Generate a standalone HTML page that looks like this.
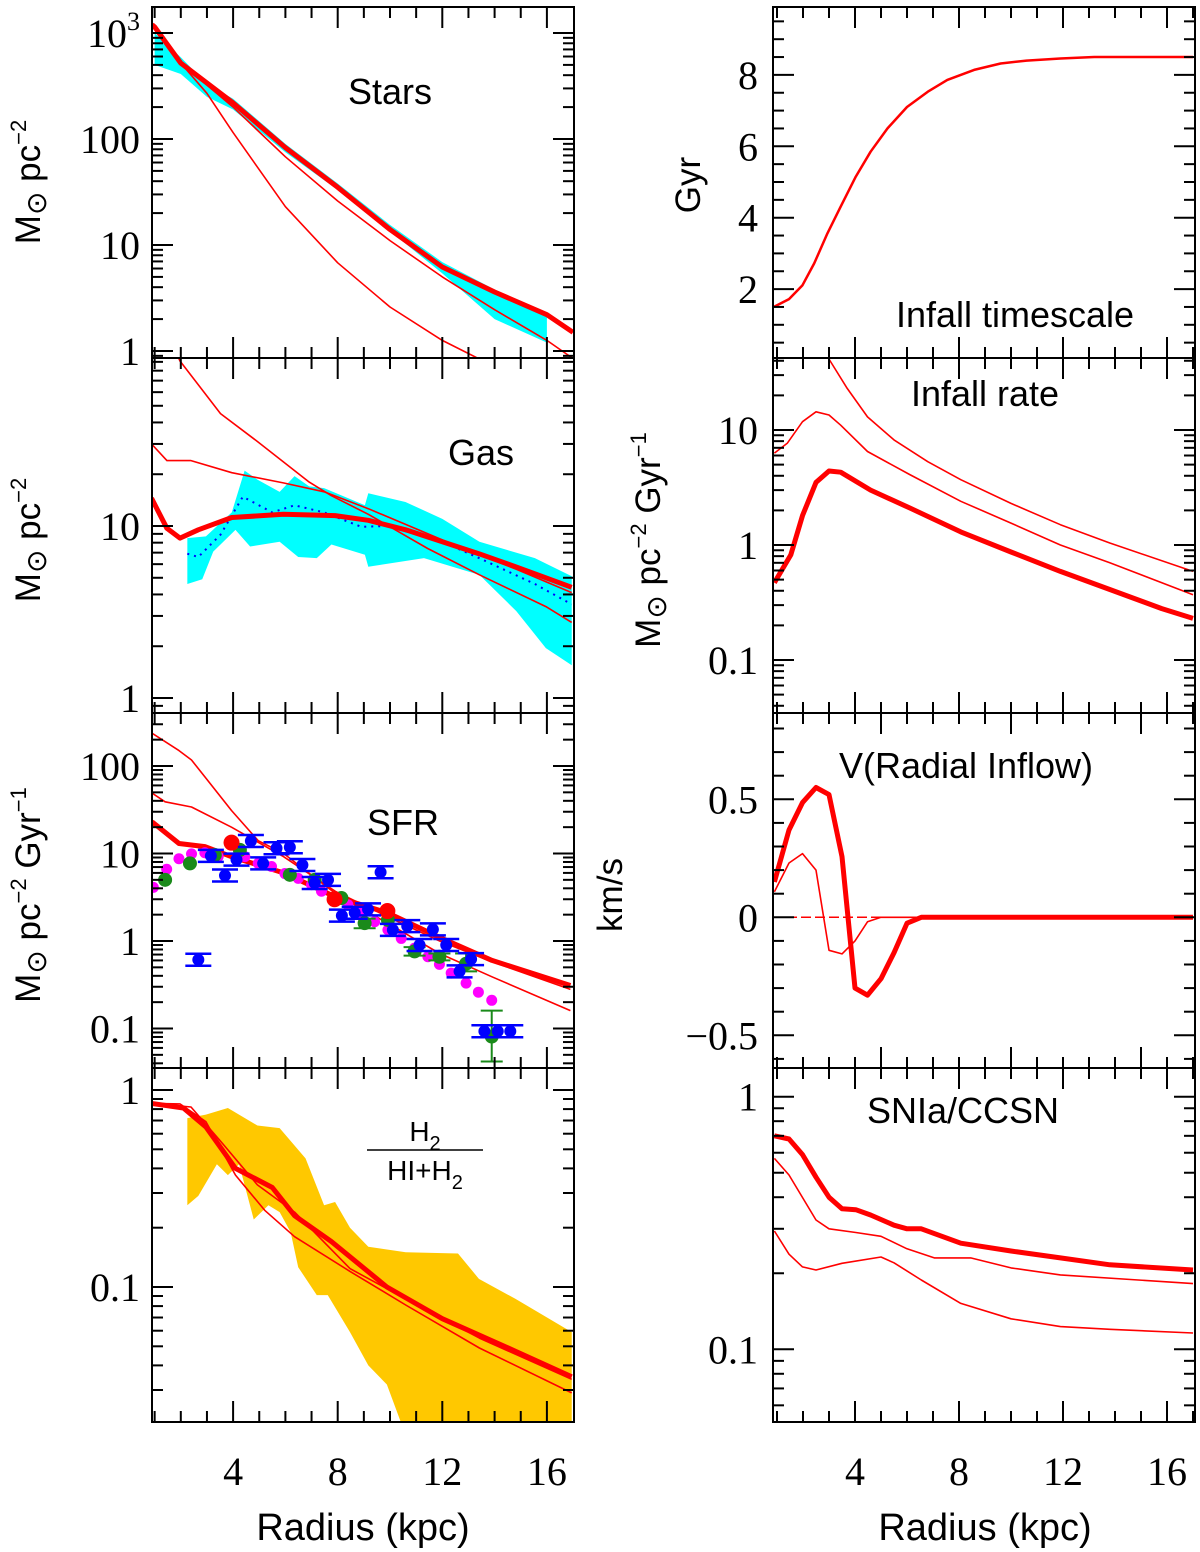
<!DOCTYPE html>
<html><head><meta charset="utf-8"><style>
html,body{margin:0;padding:0;background:#fff;width:1200px;height:1552px;overflow:hidden}
svg text{font-family:"Liberation Sans",sans-serif;fill:#000}
.num{font-family:"Liberation Serif",serif;font-size:40px}
.ttl{font-size:36px;font-weight:300}
</style></head><body>
<svg id="fig" width="1200" height="1552" viewBox="0 0 1200 1552" xmlns="http://www.w3.org/2000/svg"></svg>
<script>
// ---------- data (Radius in kpc, values in panel units) ----------
// Stars
const starsThickR=[0.9,1,2,4,6,8,10,12,14,16,17];
const starsThick=[1200,1140,520,219,83,35,14,6.2,3.6,2.2,1.5];
const starsMidR=[0.9,2,4,6,8,10,12,14,16,17];
const starsMid=[1200,520,200,68,26,11,5,2.45,1.26,0.85];
const starsSteepR=[0.9,2,3,4,6,8,10,12,13.5,14];
const starsSteep=[1200,520,270,115,23,6.8,2.6,1.26,0.82,0.7];
const starsBandR=[1,2,3,4,6,8,10,12,14,16];
const starsBandHi=[1000,590,330,240,90,38,15.5,6.9,3.8,2.3];
const starsBandLo=[500,410,250,190,75,33,13.5,5.4,2.0,1.2];
// Gas
const gasThickR=[0.88,1.47,1.97,2.67,3.95,5.92,7.9,9.17,10.6,12.0,13.4,14.8,15.96,16.95];
const gasThick=[14.5,9.7,8.5,9.5,11.2,11.7,11.5,10.8,9.5,8.1,6.9,5.8,5.0,4.4];
const gasTopR=[1.5,1.97,3.52,4.93,6.91,7.76,9.17,11.44,13.42,15.96,16.95];
const gasTop=[130,91,45,31,18,15,11.7,7.4,5.2,3.4,2.75];
const gasMidR=[0.88,1.47,2.39,3.95,5.92,7.48,9.17,12.0,14.83,16.95];
const gasMid=[30,24,24,20.4,17.8,15.8,12.6,8.3,5.6,4.1];
const gasBandHiR=[2.25,2.96,3.95,4.44,4.93,5.78,6.35,6.91,7.48,9.04,9.17,10.59,12.0,13.42,15.54,16.95];
const gasBandHi=[8.5,8.7,12,21,18.6,15.8,19.5,17,16.6,13.2,15.5,13.8,11,8.1,6.5,5.1];
const gasBandLoR=[2.25,2.82,3.24,4.09,4.65,5.78,6.49,7.2,7.76,9.04,9.17,11.3,13.42,14.83,15.96,16.95];
const gasBandLo=[4.6,4.9,7.1,9.5,7.6,8.1,6.6,6.5,7.8,6.8,5.8,6.5,5.2,3.2,1.95,1.55];
const gasObsR=[2.25,2.67,3.52,4.37,5.5,6.35,7.48,8.9,9.88,12.0,13.42,15.54,16.95];
const gasObs=[6.9,6.6,8.9,14.8,12,13.2,12,9.9,10,8.1,6.5,4.6,3.5];
// SFR
const sfrThickR=[0.9,1.93,2.92,3.94,5.93,7.91,9.9,11.9,13.9,16.9];
const sfrThick=[23,13,12,9.2,6,3.2,2.1,1.1,0.6,0.31];
const sfrTopR=[0.9,1.93,2.41,2.92,3.94,4.96,5.93,7.91,9.9,11.9,13.9,16.9];
const sfrTop=[237,150,117,75,31,14,10,3.5,1.6,0.72,0.39,0.16];
const sfrMidR=[0.9,1.4,2.41,3.94,5.93,7.91,9.9,11.9,13.9,16.9];
const sfrMid=[49,39,34,20,9.2,3.7,1.9,1.0,0.58,0.28];
const magR=[0.95,1.46,1.93,2.41,2.92,3.43,4.45,4.96,5.47,5.98,6.49,7.0,7.38,7.88,8.39,8.9,9.41,9.92,10.43,10.94,11.45,11.89,12.34,12.91,13.38,13.89];
const magV=[4.1,6.6,8.7,9.9,10.2,9.2,9.2,7.7,7.1,5.9,5.2,4.4,3.7,3.1,2.6,2.1,1.66,1.34,1.07,0.83,0.66,0.54,0.43,0.33,0.26,0.21];
const grnR=[1.4,2.35,3.3,4.26,6.17,7.12,8.14,9.03,9.92,10.94,11.89,12.91,13.89];
const grnV=[5.0,7.7,9.6,11,5.7,5.0,3.1,1.6,1.74,0.76,0.66,0.55,0.081];
const grnLo=[5.0,7.7,9.6,11,5.7,5.0,3.1,1.4,1.74,0.68,0.6,0.45,0.042];
const grnHi=[5.0,7.7,9.6,11,5.7,5.0,3.1,1.8,1.74,0.85,0.72,0.72,0.16];
const redR=[3.94,7.88,9.9];
const redV=[13.3,3.0,2.2];
const bluR=[2.67,3.69,3.15,4.13,4.68,5.15,5.66,6.17,6.65,7.12,7.63,8.16,8.65,9.16,9.64,10.11,10.66,11.13,11.64,12.15,12.66,13.1,13.61,14.12,14.6];
const bluV=[0.61,5.6,9.4,8.5,13.9,7.7,11.5,11.8,7.4,4.6,5.0,1.95,2.1,2.3,6.1,1.34,1.48,0.9,1.36,0.9,0.45,0.62,0.093,0.093,0.093];
// H2 fraction
const h2BandHiR=[2.25,2.96,3.8,4.93,5.78,6.77,7.48,7.9,8.47,9.17,10.6,12.6,13.4,14.8,16.95];
const h2BandHi=[0.72,0.75,0.81,0.66,0.64,0.45,0.26,0.27,0.20,0.16,0.15,0.148,0.11,0.087,0.059];
const h2BandLoR=[2.25,2.67,3.38,3.8,4.23,4.79,5.35,5.78,6.2,6.49,7.2,7.62,8.47,9.17,9.88,10.45,12,16.95];
const h2BandLo=[0.26,0.29,0.42,0.37,0.42,0.22,0.26,0.24,0.19,0.126,0.091,0.091,0.059,0.04,0.032,0.02,0.01,0.01];
const h2ThickR=[0.88,2.1,2.96,4.09,5.5,6.35,7.76,9.88,12.0,14.83,16.95];
const h2Thick=[0.855,0.81,0.65,0.40,0.32,0.23,0.17,0.10,0.069,0.047,0.035];
const h2AR=[0.88,2.39,3.52,4.93,6.35,8.47,10.6,13.42,16.95];
const h2A=[0.855,0.82,0.55,0.33,0.24,0.124,0.087,0.055,0.034];
const h2BR=[0.88,1.97,2.96,4.09,5.21,6.35,8.47,10.6,13.42,16.95];
const h2B=[0.855,0.85,0.69,0.37,0.245,0.18,0.12,0.081,0.049,0.029];
// Infall timescale
const tauR=[0.9,1.46,1.98,2.43,2.94,3.45,4.03,4.6,5.25,6.0,6.8,7.55,8.58,9.6,10.6,11.9,13.2,17];
const tauG=[1.51,1.72,2.11,2.72,3.56,4.31,5.15,5.85,6.5,7.1,7.53,7.86,8.14,8.32,8.4,8.46,8.5,8.5];
// Infall rate
const infThickR=[0.9,1.53,1.98,2.5,3.0,3.45,4.6,6.1,8.07,10,11.9,13.8,15.8,17];
const infThick=[0.47,0.82,1.8,3.5,4.4,4.3,3.0,2.1,1.3,0.87,0.59,0.41,0.28,0.23];
const infMidR=[0.9,1.4,1.98,2.5,3.0,3.45,4.48,6.1,8.07,10,11.9,13.8,17];
const infMid=[6.3,7.7,11.8,14.4,13.5,11,6.5,4.1,2.4,1.55,1.0,0.7,0.37];
const infTopR=[2.9,3.07,3.7,4.48,5.5,6.8,8.07,10,11.9,13.8,17];
const infTop=[45,39,23,13,8.2,5.3,3.7,2.3,1.5,1.04,0.59];
// Radial inflow velocity
const velThickR=[0.9,1.46,1.98,2.5,3.0,3.5,4.0,4.48,5.0,5.5,6.0,6.55,17];
const velThick=[0.15,0.37,0.486,0.55,0.52,0.257,-0.30,-0.33,-0.26,-0.15,-0.025,0,0];
const velThinR=[0.9,1.46,1.98,2.5,3.0,3.5,4.0,4.48,5.0,17];
const velThin=[0.108,0.23,0.27,0.2,-0.14,-0.155,-0.10,-0.019,0,0];
// SNIa / CCSN
const snThickR=[0.9,1.46,1.98,2.5,3.0,3.5,4.03,4.6,5.5,6,6.55,8.07,10,11.9,13.8,17];
const snThick=[0.70,0.68,0.59,0.48,0.40,0.36,0.357,0.34,0.31,0.30,0.30,0.263,0.245,0.23,0.216,0.206];
const snMidR=[0.9,1.46,2.5,3.0,4.03,5.0,6,7.05,8.45,10,11.9,17];
const snMid=[0.57,0.49,0.325,0.30,0.29,0.28,0.25,0.23,0.23,0.21,0.197,0.182];
const snLowR=[0.9,1.46,1.98,2.5,3.5,5,5.5,6.55,8.07,10,11.9,13.8,17];
const snLow=[0.294,0.238,0.212,0.206,0.219,0.232,0.22,0.188,0.152,0.132,0.123,0.12,0.116];
// tick labels
const xTickLabels=[4,8,12,16];

// ---------- drawing ----------
const NS='http://www.w3.org/2000/svg';
const svg=document.getElementById('fig');
function mk(tag,attrs,parent){const e=document.createElementNS(NS,tag);for(const k in attrs)e.setAttribute(k,attrs[k]);(parent||svg).appendChild(e);return e;}
const L10=Math.log10;
const xL=r=>128.5+26.15*r, xR=r=>751+26*r;
const rows=[[7,358],[358,713],[713,1068],[1068,1422]];
let clipId=0;
function panel(name,side,row,yf,isLog,yMin,yMax,majorY,minorStep,labels,xMajor){
  const X=side==='L'?xL:xR, l=side==='L'?152:773, r=side==='L'?574:1195;
  const [t,b]=rows[row];
  const g=mk('g',{});
  
  
  const cid='c'+(clipId++);
  const cp=mk('clipPath',{id:cid},g);mk('rect',{x:l,y:t,width:r-l,height:b-t},cp);
  const plot=mk('g',{'clip-path':'url(#'+cid+')'},g);
  const ax=mk('g',{stroke:'#000','stroke-width':2},g);
  for(let k=1;k<=17;k++){const px=X(k);if(px<l+1||px>r-1)continue;const maj=(k%xMajor===0);const len=maj?21:11;
    mk('line',{x1:px,y1:b,x2:px,y2:b-len},ax);mk('line',{x1:px,y1:t,x2:px,y2:t+len},ax);}
  if(isLog){for(let d=Math.floor(yMin);d<=Math.ceil(yMax);d++){for(let m=1;m<=9;m++){const v=m*Math.pow(10,d);const py=yf(v);if(py<t+1||py>b-1)continue;const len=m===1?21:11;
      mk('line',{x1:l,y1:py,x2:l+len,y2:py},ax);mk('line',{x1:r,y1:py,x2:r-len,y2:py},ax);}}}
  else{for(let v=yMin;v<=yMax+1e-9;v+=minorStep){const vv=Math.round(v*1000)/1000;const py=yf(vv);if(py<t+1||py>b-1)continue;const maj=Math.abs(vv/majorY-Math.round(vv/majorY))<1e-6;const len=maj?21:11;
      mk('line',{x1:l,y1:py,x2:l+len,y2:py},ax);mk('line',{x1:r,y1:py,x2:r-len,y2:py},ax);}}
  mk('rect',{x:l,y:t,width:r-l,height:b-t,fill:'none',stroke:'#000','stroke-width':2},g);
  labels.forEach(([v,txt])=>{const tx=mk('text',{x:side==='L'?140:758,y:yf(v)+14,'text-anchor':'end',class:'num'},g);tx.innerHTML=txt;
    });
  return {plot,X,yf};
}
function line(P,R,V,w,nm,extra){const pts=R.map((r,i)=>P.X(r).toFixed(1)+','+P.yf(V[i]).toFixed(1)).join(' ');
  const e=mk('polyline',Object.assign({points:pts,fill:'none',stroke:'#ff0000','stroke-width':w,'stroke-linejoin':'round'},extra||{}),P.plot);
  return e;}
function band(P,Rh,Vh,Rl,Vl,col,nm){const a=Rh.map((r,i)=>P.X(r)+','+P.yf(Vh[i]));const c=Rl.map((r,i)=>P.X(r)+','+P.yf(Vl[i])).reverse();
  const e=mk('polygon',{points:a.concat(c).join(' '),fill:col,stroke:'none'},P.plot);}
function txt(x,y,s,nm,extra){const e=mk('text',Object.assign({x:x,y:y},extra||{}));e.innerHTML=s;return e;}

// Stars
const yS=v=>351-106*L10(v);
const P1=panel('stars','L',0,yS,true,-1,3.4,0,0,[[1000,'10<tspan font-size="26" dy="-17">3</tspan>'],[100,'100'],[10,'10'],[1,'1']],4);
band(P1,starsBandR,starsBandHi,starsBandR,starsBandLo,'#00ffff','stars-observed-band');
line(P1,starsSteepR,starsSteep,1.6,'stars-model-steep');
line(P1,starsMidR,starsMid,1.6,'stars-model-mid');
line(P1,starsThickR,starsThick,5,'stars-model-main');
txt(390,104,'Stars','stars-title',{'text-anchor':'middle',class:'ttl'});
// Gas
const yG=v=>698-172*L10(v);
const P2=panel('gas','L',1,yG,true,-1,2.1,0,0,[[10,'10'],[1,'1']],4);
band(P2,gasBandHiR,gasBandHi,gasBandLoR,gasBandLo,'#00ffff','gas-observed-band');
line(P2,gasObsR,gasObs,2,'gas-observed-mean',{stroke:'#0000ff','stroke-dasharray':'2,5'});
line(P2,gasTopR,gasTop,1.6,'gas-model-steep');
line(P2,gasMidR,gasMid,1.6,'gas-model-mid');
line(P2,gasThickR,gasThick,5,'gas-model-main');
txt(481,465,'Gas','gas-title',{'text-anchor':'middle',class:'ttl'});
// SFR
const yF=v=>941-87.5*L10(v);
const P3=panel('sfr','L',2,yF,true,-2,2.7,0,0,[[100,'100'],[10,'10'],[1,'1'],[0.1,'0.1']],4);
line(P3,sfrTopR,sfrTop,1.6,'sfr-model-steep');
line(P3,sfrMidR,sfrMid,1.6,'sfr-model-mid');
line(P3,sfrThickR,sfrThick,5,'sfr-model-main');
magR.forEach((r,i)=>{const c=mk('circle',{cx:P3.X(r),cy:P3.yf(magV[i]),r:5.5,fill:'#ff00ff'},P3.plot);});
grnR.forEach((r,i)=>{const x=P3.X(r);if(grnHi[i]!==grnLo[i]){const e=mk('g',{stroke:'#1a8a1a','stroke-width':2},P3.plot);mk('line',{x1:x,x2:x,y1:P3.yf(grnLo[i]),y2:P3.yf(grnHi[i])},e);mk('line',{x1:x-11,x2:x+11,y1:P3.yf(grnLo[i]),y2:P3.yf(grnLo[i])},e);mk('line',{x1:x-11,x2:x+11,y1:P3.yf(grnHi[i]),y2:P3.yf(grnHi[i])},e);}
  const c=mk('circle',{cx:x,cy:P3.yf(grnV[i]),r:7,fill:'#1a8a1a'},P3.plot);});
redR.forEach((r,i)=>{const c=mk('circle',{cx:P3.X(r),cy:P3.yf(redV[i]),r:8,fill:'#ff0000'},P3.plot);});
bluR.forEach((r,i)=>{const x=P3.X(r),y=P3.yf(bluV[i]);const e=mk('g',{stroke:'#0000ff','stroke-width':2.5},P3.plot);
  mk('line',{x1:x-13,x2:x+13,y1:y-6,y2:y-6},e);mk('line',{x1:x-13,x2:x+13,y1:y+6,y2:y+6},e);
  const c=mk('circle',{cx:x,cy:y,r:6,fill:'#0000ff'},P3.plot);});
txt(403,835,'SFR','sfr-title',{'text-anchor':'middle',class:'ttl'});
// H2 fraction
const yH=v=>1090-197*L10(v);
const P4=panel('h2-fraction','L',3,yH,true,-2,0.2,0,0,[[1,'1'],[0.1,'0.1']],4);
band(P4,h2BandHiR,h2BandHi,h2BandLoR,h2BandLo,'#ffc800','h2-observed-band');
line(P4,h2BR,h2B,1.6,'h2-model-low');
line(P4,h2AR,h2A,1.6,'h2-model-mid');
line(P4,h2ThickR,h2Thick,5,'h2-model-main');
txt(425,1141,'H<tspan font-size="20" dy="9">2</tspan>','h2-label-numerator',{'text-anchor':'middle',style:'font-size:28px;font-weight:300'});
mk('line',{x1:367,x2:483,y1:1150,y2:1150,stroke:'#000','stroke-width':1.5});
txt(425,1180,'HI+H<tspan font-size="20" dy="9">2</tspan>','h2-label-denominator',{'text-anchor':'middle',style:'font-size:28px;font-weight:300'});
// Infall timescale
const yT=v=>360.5-35.7*v;
const Q1=panel('infall-timescale','R',0,yT,false,0,10,2,0.5,[[2,'2'],[4,'4'],[6,'6'],[8,'8']],4);
line(Q1,tauR,tauG,2.5,'infall-timescale-curve');
txt(1015,327,'Infall timescale','infall-timescale-title',{'text-anchor':'middle',class:'ttl'});
// Infall rate
const yI=v=>545-115*L10(v);
const Q2=panel('infall-rate','R',1,yI,true,-2,1.8,0,0,[[10,'10'],[1,'1'],[0.1,'0.1']],4);
line(Q2,infTopR,infTop,1.6,'infall-rate-steep');
line(Q2,infMidR,infMid,1.6,'infall-rate-mid');
line(Q2,infThickR,infThick,5,'infall-rate-main');
txt(985,406,'Infall rate','infall-rate-title',{'text-anchor':'middle',class:'ttl'});
// Radial inflow
const yV=v=>917.3-236*v;
const Q3=panel('radial-inflow','R',2,yV,false,-0.7,0.9,0.5,0.1,[[0.5,'0.5'],[0,'0'],[-0.5,'−0.5']],5);
mk('line',{x1:773,x2:1195,y1:yV(0),y2:yV(0),stroke:'#ff0000','stroke-width':1.5,'stroke-dasharray':'10,4'},Q3.plot);
line(Q3,velThinR,velThin,1.6,'radial-inflow-thin');
line(Q3,velThickR,velThick,5,'radial-inflow-main');
txt(966,778,'V(Radial Inflow)','radial-inflow-title',{'text-anchor':'middle',class:'ttl'});
// SNIa/CCSN
const yN=v=>1096.7-252.6*L10(v);
const Q4=panel('snia-ccsn','R',3,yN,true,-2,0.2,0,0,[[1,'1'],[0.1,'0.1']],4);
line(Q4,snLowR,snLow,1.6,'snia-ccsn-low');
line(Q4,snMidR,snMid,1.6,'snia-ccsn-mid');
line(Q4,snThickR,snThick,5,'snia-ccsn-main');
txt(963,1123,'SNIa/CCSN','snia-ccsn-title',{'text-anchor':'middle',class:'ttl'});

// x tick labels & axis titles
xTickLabels.forEach(v=>{txt(xL(v),1485,String(v),'x-tick-label',{'text-anchor':'middle',class:'num'});txt(xR(v),1485,String(v),'x-tick-label',{'text-anchor':'middle',class:'num'});});
txt(363,1540,'Radius (kpc)','x-axis-title-left',{'text-anchor':'middle',style:'font-size:38px;font-weight:300'});
txt(985,1540,'Radius (kpc)','x-axis-title-right',{'text-anchor':'middle',style:'font-size:38px;font-weight:300'});
function ytitle(x,y,html,nm){txt(0,0,html,nm,{'text-anchor':'middle',transform:'translate('+x+','+y+') rotate(-90)',style:'font-size:35px;font-weight:300'});}
const MS='M<tspan font-size="28" dy="6">⊙</tspan><tspan dy="-6"> pc</tspan><tspan font-size="22" dy="-14">−2</tspan>';
ytitle(40,182,MS,'y-axis-title-stars');
ytitle(40,540,MS,'y-axis-title-gas');
ytitle(40,895,MS+'<tspan dy="14"> Gyr</tspan><tspan font-size="22" dy="-14">−1</tspan>','y-axis-title-sfr');
ytitle(700,185,'Gyr','y-axis-title-timescale');
ytitle(660,540,MS+'<tspan dy="14"> Gyr</tspan><tspan font-size="22" dy="-14">−1</tspan>','y-axis-title-infall-rate');
ytitle(622,895,'km/s','y-axis-title-velocity');
</script>
</body></html>
